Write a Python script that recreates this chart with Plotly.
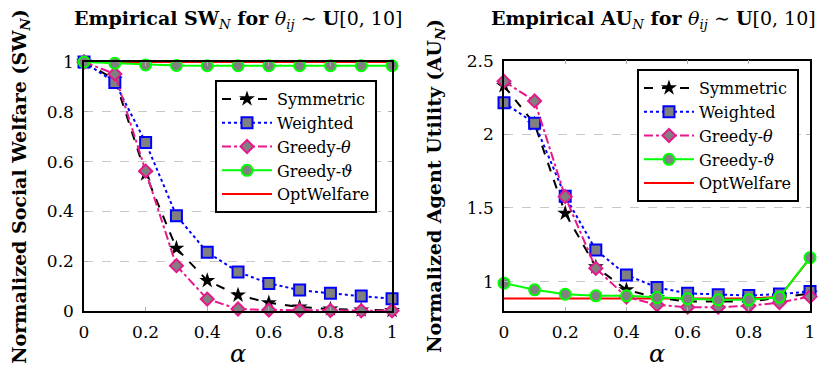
import plotly.graph_objects as go

# alpha values shared by both panels
alpha = [0, 0.1, 0.2, 0.3, 0.4, 0.5, 0.6, 0.7, 0.8, 0.9, 1.0]

# normalized social welfare (left)
sw_symmetric = [1.0, 0.93, 0.55, 0.252, 0.122, 0.064, 0.033, 0.016, 0.008, 0.004, 0.002]
sw_weighted = [1.0, 0.918, 0.677, 0.383, 0.236, 0.157, 0.111, 0.084, 0.071, 0.06, 0.049]
sw_greedy_theta = [1.0, 0.952, 0.562, 0.182, 0.048, 0.008, 0.004, 0.003, 0.002, 0.001, 0.001]
sw_greedy_vartheta = [1.0, 0.995, 0.988, 0.986, 0.985, 0.985, 0.985, 0.985, 0.985, 0.985, 0.985]
sw_optwelfare = [1.0] * 11

# normalized agent utility (right)
au_symmetric = [2.33, 2.07, 1.464, 1.1, 0.944, 0.89, 0.865, 0.862, 0.864, 0.89, 0.92]
au_weighted = [2.215, 2.075, 1.58, 1.215, 1.045, 0.96, 0.92, 0.91, 0.905, 0.915, 0.932]
au_greedy_theta = [2.36, 2.227, 1.577, 1.09, 0.895, 0.842, 0.826, 0.826, 0.835, 0.857, 0.898]
au_greedy_vartheta = [0.989, 0.944, 0.914, 0.903, 0.903, 0.891, 0.883, 0.876, 0.876, 0.894, 1.163]
au_optwelfare = [0.885, 0.885, 0.885, 0.885, 0.885, 0.885, 0.885, 0.885, 0.885, 0.895, 1.16]

names = ["Symmetric", "Weighted", "Greedy-<i>θ</i>", "Greedy-<i>ϑ</i>", "OptWelfare"]

FONT = "DejaVu Serif, Liberation Serif, serif"
GRAY = "#808080"
MAG = "#e6198c"

styles = [
    dict(line=dict(color="black", dash="dash", width=2),
         marker=dict(symbol="star", size=12, color="black", line=dict(width=0))),
    dict(line=dict(color="blue", dash="dot", width=2),
         marker=dict(symbol="square", size=11, color=GRAY, line=dict(color="blue", width=2))),
    dict(line=dict(color=MAG, dash="dashdot", width=2),
         marker=dict(symbol="diamond", size=10, color=GRAY, line=dict(color=MAG, width=2))),
    dict(line=dict(color="#00ff00", width=2),
         marker=dict(symbol="circle", size=11, color=GRAY, line=dict(color="#00ff00", width=2))),
    dict(line=dict(color="red", width=2)),
]

fig = go.Figure()

panels = [
    ("x", "y", "legend", [sw_symmetric, sw_weighted, sw_greedy_theta, sw_greedy_vartheta, sw_optwelfare]),
    ("x2", "y2", "legend2", [au_symmetric, au_weighted, au_greedy_theta, au_greedy_vartheta, au_optwelfare]),
]

for xa, ya, leg, series in panels:
    # draw OptWelfare first so markers sit on top
    for i in [4, 0, 1, 2, 3]:
        fig.add_trace(go.Scatter(
            x=alpha, y=series[i], name=names[i],
            mode="lines" if i == 4 else "lines+markers",
            xaxis=xa, yaxis=ya, legend=leg, legendrank=i + 1,
            cliponaxis=False, **styles[i]))

axis_common = dict(
    showline=True, linecolor="black", linewidth=1.5, mirror="ticks",
    ticks="inside", ticklen=4, tickcolor="#b0b0b0", tickwidth=1,
    tickfont=dict(family=FONT, size=17, color="black"), zeroline=False,
    ticklabelstandoff=5, automargin=False,
)

xticks = [0, 0.2, 0.4, 0.6, 0.8, 1]
xlabels = ["0", "0.2", "0.4", "0.6", "0.8", "1"]

# page has an 8px body margin, so positions are shifted by that
fig.update_layout(
    width=830, height=374,
    margin=dict(l=0, r=0, t=0, b=0, autoexpand=False),
    paper_bgcolor="white", plot_bgcolor="white",
    font=dict(family=FONT, color="black"),
    showlegend=True,
    xaxis=dict(domain=[0.0916, 0.4627], range=[0, 1], tickvals=xticks, ticktext=xlabels,
               showgrid=False,
               title=dict(text="<i>α</i>", font=dict(size=24), standoff=4), **axis_common),
    yaxis=dict(domain=[0.1898, 0.8556], range=[0, 1], tickvals=[0, 0.2, 0.4, 0.6, 0.8, 1],
               ticktext=["0", "0.2", "0.4", "0.6", "0.8", "1"],
               showgrid=True, gridcolor="#c8c8c8", griddash="dash", gridwidth=1,
               title=dict(text="<b>Normalized Social Welfare (SW</b><sub><b><i>N</i></b></sub><b>)</b>",
                          font=dict(size=19), standoff=20), **axis_common),
    xaxis2=dict(domain=[0.5976, 0.9663], range=[0, 1], tickvals=xticks, ticktext=xlabels,
                showgrid=False, anchor="y2",
                title=dict(text="<i>α</i>", font=dict(size=24), standoff=4), **axis_common),
    yaxis2=dict(domain=[0.1898, 0.859], range=[0.8, 2.5], tickvals=[1, 1.5, 2, 2.5],
                ticktext=["1", "1.5", "2", "2.5"], anchor="x2",
                showgrid=True, gridcolor="#c8c8c8", griddash="dash", gridwidth=1,
                title=dict(text="<b>Normalized Agent Utility (AU</b><sub><b><i>N</i></b></sub><b>)</b>",
                           font=dict(size=19), standoff=20), **axis_common),
    legend=dict(x=0.2494, y=0.8075, xanchor="left", yanchor="top",
                bgcolor="white", bordercolor="black", borderwidth=2,
                font=dict(family=FONT, size=16), itemwidth=50, tracegroupgap=0),
    legend2=dict(x=0.7578, y=0.8369, xanchor="left", yanchor="top",
                 bgcolor="white", bordercolor="black", borderwidth=2,
                 font=dict(family=FONT, size=16), itemwidth=50, tracegroupgap=0),
    annotations=[
        dict(text="<b>Empirical SW</b><sub><i>N</i></sub><b> for </b><i>θ<sub>ij</sub></i> ∼ <b>U</b>[0, 10]",
             x=0.2777, y=0.968, xref="paper", yref="paper", showarrow=False,
             font=dict(family=FONT, size=19), xanchor="center", yanchor="middle"),
        dict(text="<b>Empirical AU</b><sub><i>N</i></sub><b> for </b><i>θ<sub>ij</sub></i> ∼ <b>U</b>[0, 10]",
             x=0.7777, y=0.968, xref="paper", yref="paper", showarrow=False,
             font=dict(family=FONT, size=19), xanchor="center", yanchor="middle"),
    ],
)

fig.write_html("out.html")
